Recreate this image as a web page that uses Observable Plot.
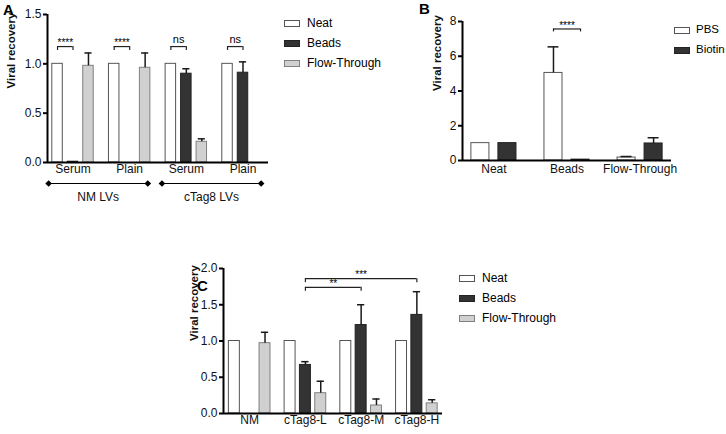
<!DOCTYPE html>
<html>
<head>
<meta charset="utf-8">
<script src="https://cdn.jsdelivr.net/npm/d3@7"></script>
<script src="https://cdn.jsdelivr.net/npm/@observablehq/plot@0.6"></script>
<style>
  body { margin: 0; background: #fff; font-family: "Liberation Sans", Arial, sans-serif; color: #000; }
  #page { position: relative; width: 726px; height: 434px; overflow: hidden; background: #fff; }
  .panel { position: absolute; }
  .letter { position: absolute; font-weight: bold; font-size: 15px; line-height: 1; }
  .legend { position: absolute; font-size: 12px; line-height: 1; }
  .legend .row { display: flex; align-items: center; height: 20px; }
  .legend .sw { box-sizing: border-box; width: 16px; height: 7px; border: 1px solid #555; margin-right: 7px; }
  .legend.tight { font-size: 11.5px; }
  .legend.tight .sw { margin-right: 6px; }
  svg [aria-label^="y-axis"] line, svg [aria-label^="y-axis"] path { stroke-width: 2px; }
  svg [aria-label^="y-axis"] text { font-size: 12px; fill: #111; }
</style>
</head>
<body>
<div id="page"></div>
<script>
// ---------- Panel A data ----------
const aGroups = ["Serum", "Plain", "Serum", "Plain"];
const aSeries = ["Neat", "Beads", "Flow-Through"];
const aNeat = [1, 1, 1, 1];
const aNeatErr = [0, 0, 0, 0];
const aBeads = [0.008, null, 0.90, 0.91];
const aBeadsErr = [0, 0, 0.05, 0.11];
const aFlow = [0.98, 0.96, 0.21, null];
const aFlowErr = [0.13, 0.15, 0.03, 0];
const aSuperLabels = ["NM LVs", "cTag8 LVs"];
const aSuperFirst = [0, 2];
const aSuperLast = [1, 3];
const aSigLabels = ["****", "****", "ns", "ns"];

// ---------- Panel B data ----------
const bGroups = ["Neat", "Beads", "Flow-Through"];
const bSeries = ["PBS", "Biotin"];
const bPBS = [1, 5.04, 0.17];
const bPBSErr = [0, 1.5, 0.06];
const bBiotin = [1, 0.05, 0.98];
const bBiotinErr = [0, 0, 0.33];
const bSigLabels = ["****"];

// ---------- Panel C data ----------
const cGroups = ["NM", "cTag8-L", "cTag8-M", "cTag8-H"];
const cSeries = ["Neat", "Beads", "Flow-Through"];
const cNeat = [1, 1, 1, 1];
const cNeatErr = [0, 0, 0, 0];
const cBeads = [null, 0.67, 1.22, 1.36];
const cBeadsErr = [0, 0.045, 0.28, 0.32];
const cFlow = [0.97, 0.28, 0.11, 0.14];
const cFlowErr = [0.15, 0.165, 0.09, 0.05];
const cSigLabels = ["***", "**"];

// ---------- styles ----------
const FILL = { "Neat": "#ffffff", "PBS": "#ffffff", "Beads": "#333333", "Biotin": "#333333", "Flow-Through": "#d0d0d0" };
const STROKE = { "Neat": "#555555", "PBS": "#555555", "Beads": "#222222", "Biotin": "#222222", "Flow-Through": "#808080" };
const FONT = "'Liberation Sans', Arial, sans-serif";

function buildPanel(cfg) {
  const n = cfg.series.length;
  const px = (g, si) => g + (si - (n - 1) / 2) * cfg.step;
  const pos = d => px(d.g, d.si);
  const rows = [];
  cfg.series.forEach((s, si) => cfg.groups.forEach((g, gi) => {
    const v = cfg.values[si][gi];
    if (v == null) return;
    rows.push({ g: gi, si, s, v, e: cfg.errors[si][gi] || 0 });
  }));
  const err = rows.filter(d => d.e > 0);
  const br = cfg.brackets.map(b => ({ x1: px(b.g1, b.s1), x2: px(b.g2, b.s2), y: b.y, label: b.label }));
  const sigMarks = [];
  if (br.length) {
    sigMarks.push(
      Plot.ruleY(br, { x1: "x1", x2: "x2", y: "y", stroke: "#222", strokeWidth: 1.2 }),
      Plot.ruleX(br, { x: "x1", y1: "y", y2: d => d.y - cfg.tick, stroke: "#222", strokeWidth: 1.2 }),
      Plot.ruleX(br, { x: "x2", y1: "y", y2: d => d.y - cfg.tick, stroke: "#222", strokeWidth: 1.2 }),
      Plot.text(br.filter(d => d.label !== "ns"), { x: d => (d.x1 + d.x2) / 2, y: "y", text: "label", dy: -3.5, fontSize: 10, fill: "#000" }),
      Plot.text(br.filter(d => d.label === "ns"), { x: d => (d.x1 + d.x2) / 2, y: "y", text: "label", dy: -7.5, fontSize: 11, fill: "#000" })
    );
  }
  const bars = cfg.series.map((s, si) => Plot.rect(rows.filter(d => d.si === si), {
    x1: d => pos(d) - cfg.bw / 2, x2: d => pos(d) + cfg.bw / 2,
    y1: () => 0, y2: "v", fill: FILL[s], stroke: STROKE[s], strokeWidth: 1
  }));
  return Plot.plot({
    width: cfg.width, height: cfg.height,
    marginLeft: cfg.margins[0], marginRight: cfg.margins[1], marginTop: cfg.margins[2], marginBottom: cfg.margins[3],
    style: { fontFamily: FONT, fontSize: "12px", background: "none", color: "#000", overflow: "visible" },
    x: { domain: cfg.xDomain, axis: null },
    y: { domain: cfg.yDomain, ticks: cfg.yTicks, tickFormat: cfg.yFormat, tickSize: 4, tickPadding: 2, label: null },
    marks: [
      ...bars,
      Plot.ruleX(err, { x: pos, y1: "v", y2: d => d.v + d.e, stroke: "#1a1a1a", strokeWidth: 1.5 }),
      Plot.ruleY(err, { y: d => d.v + d.e, x1: d => pos(d) - cfg.cap, x2: d => pos(d) + cfg.cap, stroke: "#1a1a1a", strokeWidth: 1.5 }),
      Plot.ruleY([0], { stroke: "#000", strokeWidth: 2 }),
      Plot.ruleX([cfg.xDomain[0]], { stroke: "#000", strokeWidth: 2 }),
      Plot.text(cfg.groups, { x: (d, i) => i, frameAnchor: "bottom", dy: cfg.labelDy, text: d => d, fontSize: 12, fill: "#111" }),
      Plot.text(["Viral recovery"], { frameAnchor: "left", rotate: -90, dx: cfg.labelDx, text: d => d, fontWeight: "bold", fontSize: 11.5, fill: "#111" }),
      ...sigMarks,
      ...(cfg.extra || [])
    ]
  });
}

const page = document.getElementById("page");
function place(el, left, top) {
  const div = document.createElement("div");
  div.className = "panel";
  div.style.left = left + "px";
  div.style.top = top + "px";
  div.appendChild(el);
  page.appendChild(div);
}
function letter(t, left, top) {
  const d = document.createElement("div");
  d.className = "letter";
  d.textContent = t;
  d.style.left = left + "px";
  d.style.top = top + "px";
  page.appendChild(d);
}
function legend(series, left, top, extraClass) {
  const d = document.createElement("div");
  d.className = "legend" + (extraClass ? " " + extraClass : "");
  d.style.left = left + "px";
  d.style.top = top + "px";
  series.forEach(s => {
    const r = document.createElement("div");
    r.className = "row";
    const sw = document.createElement("div");
    sw.className = "sw";
    sw.style.background = FILL[s];
    sw.style.borderColor = STROKE[s];
    const t = document.createElement("span");
    t.textContent = s;
    r.appendChild(sw);
    r.appendChild(t);
    d.appendChild(r);
  });
  page.appendChild(d);
}

// Panel A super-group brackets (below axis)
const aSuper = aSuperLabels.map((l, i) => ({ label: l, x1: aSuperFirst[i] - 0.43, x2: aSuperLast[i] + 0.32 }));
const aSuperEnds = aSuper.flatMap(d => [{ x: d.x1 }, { x: d.x2 }]);
const aExtra = [
  Plot.ruleY(aSuper, { x1: "x1", x2: "x2", y: () => 0, dy: 21, stroke: "#000", strokeWidth: 1.2 }),
  Plot.dot(aSuperEnds, { x: "x", y: () => 0, dy: 21, symbol: "diamond2", r: 3, fill: "#000", stroke: "none" }),
  Plot.text(aSuper, { x: d => (d.x1 + d.x2) / 2, y: () => 0, dy: 35, text: "label", fontSize: 12, fill: "#111" })
];

const plotA = buildPanel({
  groups: aGroups, series: aSeries,
  values: [aNeat, aBeads, aFlow], errors: [aNeatErr, aBeadsErr, aFlowErr],
  step: 0.273, bw: 0.185, cap: 0.063,
  xDomain: [-0.45, 3.45], yDomain: [0, 1.5], yTicks: 3, yFormat: ".1f",
  width: 290, height: 210, margins: [47, 22, 14, 48],
  labelDx: -36, labelDy: 10, tick: 0.04,
  brackets: aSigLabels.map((l, g) => ({ g1: g, s1: 0, g2: g, s2: 1, y: 1.175, label: l })),
  extra: aExtra
});

const plotB = buildPanel({
  groups: bGroups, series: bSeries,
  values: [bPBS, bBiotin], errors: [bPBSErr, bBiotinErr],
  step: 0.37, bw: 0.247, cap: 0.075,
  xDomain: [-0.43, 2.43], yDomain: [0, 8], yTicks: 4, yFormat: "d",
  width: 280, height: 200, margins: [62, 9, 21, 40],
  labelDx: -25, labelDy: 12, tick: 0.17,
  brackets: bSigLabels.map(l => ({ g1: 1, s1: 0, g2: 1, s2: 1, y: 7.57, label: l }))
});

const plotC = buildPanel({
  groups: cGroups, series: cSeries,
  values: [cNeat, cBeads, cFlow], errors: [cNeatErr, cBeadsErr, cFlowErr],
  step: 0.275, bw: 0.197, cap: 0.065,
  xDomain: [-0.47, 3.46], yDomain: [0, 2], yTicks: 4, yFormat: ".1f",
  width: 280, height: 184, margins: [43, 18, 18, 21],
  labelDx: -29, labelDy: 10, tick: 0.055,
  brackets: [
    { g1: 1, s1: 1, g2: 3, s2: 1, y: 1.86, label: cSigLabels[0] },
    { g1: 1, s1: 1, g2: 2, s2: 1, y: 1.74, label: cSigLabels[1] }
  ]
});

place(plotA, 0, 0);
place(plotB, 400, 0);
place(plotC, 180, 250);
letter("A", 3, 2);
letter("B", 419, 1);
letter("C", 197, 278);
legend(aSeries, 284, 13);
legend(bSeries, 674, 20, "tight");
legend(cSeries, 459, 268);
</script>
</body>
</html>
